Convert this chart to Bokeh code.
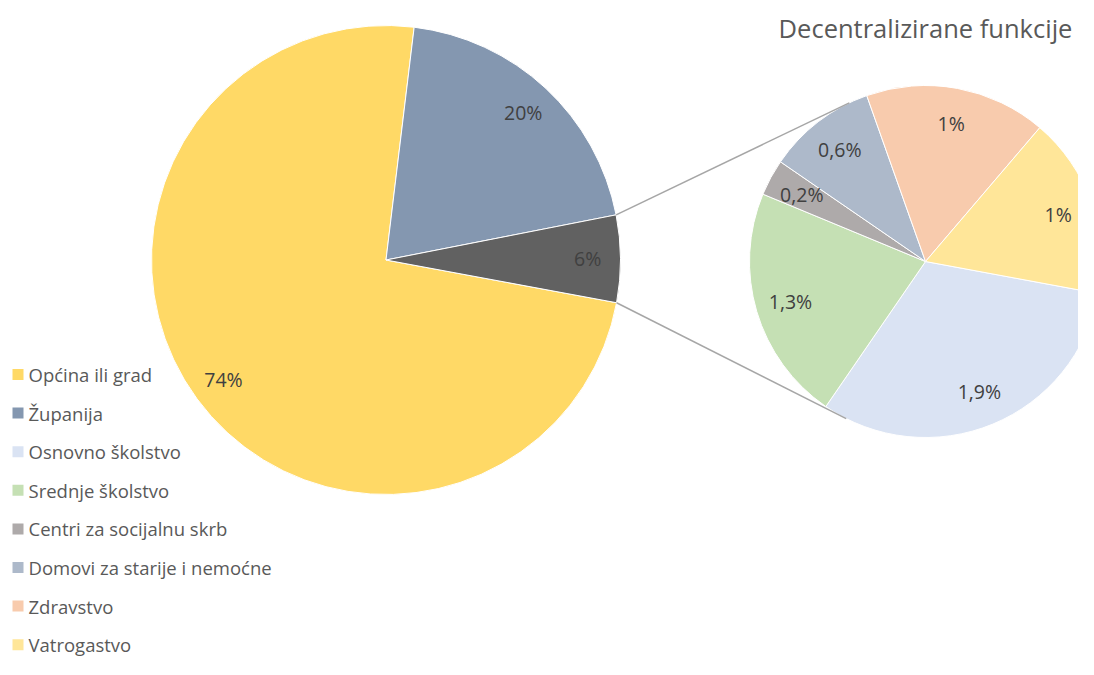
import math
from bokeh.plotting import figure
from bokeh.models import Range1d, ColumnDataSource
from bokeh.core.properties import value
from bokeh.embed import file_html
from bokeh.resources import INLINE

# ---------------- data ----------------
main_labels = ["Općina ili grad", "Županija", "Decentralizirane funkcije"]
main_values = [74, 20, 6]
main_colors = ["#FFD966", "#8497B0", "#616161"]

sub_title = "Decentralizirane funkcije"
sub_labels = ["Osnovno školstvo", "Srednje školstvo", "Centri za socijalnu skrb",
              "Domovi za starije i nemoćne", "Zdravstvo", "Vatrogastvo"]
sub_values = [1.9, 1.3, 0.2, 0.6, 1.0, 1.0]
sub_colors = ["#DAE3F3", "#C5E0B4", "#AEAAAA", "#ADB9CA", "#F8CBAD", "#FFE699"]

legend_labels = main_labels[:2] + sub_labels
legend_colors = main_colors[:2] + sub_colors

# ---------------- layout (pixel-like coordinates, y negated) ----------------
W, H = 1078, 659
FONT = "Open Sans"
START = math.radians(-10.5)          # first slice angle (clockwise layout)
C1, R1 = (385.5, -259.5), 234.5      # main pie
C2, R2 = (925.0, -261.0), 176.0      # secondary pie
LBL1, LBL2 = 0.86, 0.80              # label radius fraction


def fmt(v):
    return ("%g" % v).replace(".", ",") + "%"


def pie_data(vals, colors, c, r, lblf):
    tot = sum(vals)
    a = START
    d = dict(x=[], y=[], start=[], end=[], color=[], lx=[], ly=[], txt=[])
    for v, col in zip(vals, colors):
        th = v / tot * 2 * math.pi
        s, e = a - th, a                # anticlockwise from s to e
        mid = (s + e) / 2
        d["x"].append(c[0]); d["y"].append(c[1])
        d["start"].append(s); d["end"].append(e)
        d["color"].append(col)
        d["lx"].append(c[0] + lblf * r * math.cos(mid))
        d["ly"].append(c[1] + lblf * r * math.sin(mid))
        d["txt"].append(fmt(v))
        a -= th
    return d


p = figure(width=W, height=H, output_backend="svg", toolbar_location=None,
           x_range=Range1d(0, W), y_range=Range1d(-H, 0),
           min_border=0, outline_line_color=None, background_fill_color="white")
p.axis.visible = False
p.grid.visible = False

d1 = pie_data(main_values, main_colors, C1, R1, LBL1)
d2 = pie_data(sub_values, sub_colors, C2, R2, LBL2)

for d in (d1, d2):
    src = ColumnDataSource(d)
    p.wedge(x="x", y="y", radius=R1 if d is d1 else R2, start_angle="start", end_angle="end",
            fill_color="color", line_color="white", line_width=1, source=src)
    p.text(x="lx", y="ly", text="txt", source=src, text_align="center",
           text_baseline="middle", text_font=value(FONT), text_font_size="19.5px",
           text_color="#404040")

# connector lines: from edges of the "other" slice to tangents of the secondary pie
o_start, o_end = d1["start"][2], d1["end"][2]
xs, ys = [], []
for ang, sign in ((o_end, -1), (o_start, 1)):
    px = C1[0] + R1 * math.cos(ang)
    py = C1[1] + R1 * math.sin(ang)
    vx, vy = px - C2[0], py - C2[1]
    dist = math.hypot(vx, vy)
    phi = math.atan2(vy, vx) + sign * math.acos(R2 / dist)
    xs.append([px, C2[0] + R2 * math.cos(phi)])
    ys.append([py, C2[1] + R2 * math.sin(phi)])
p.multi_line(xs=xs, ys=ys, line_color="#A6A6A6", line_width=1.5)

# title of secondary pie
p.text(x=[C2[0]], y=[-27], text=[sub_title], text_align="center", text_baseline="middle",
       text_font=value(FONT), text_font_size="25.5px", text_color="#595959")

# legend
LX, LY0, LSTEP = 17.5, -374.0, 38.6
ly = [LY0 - i * LSTEP for i in range(len(legend_labels))]
p.scatter(x=[LX] * len(ly), y=ly, marker="square", size=11, fill_color=legend_colors,
          line_color=None)
p.text(x=[LX + 10.5] * len(ly), y=ly, text=legend_labels, text_align="left",
       text_baseline="middle", text_font=value(FONT), text_font_size="18.5px",
       text_color="#595959")

open("out.html", "w").write(file_html(p, INLINE))
